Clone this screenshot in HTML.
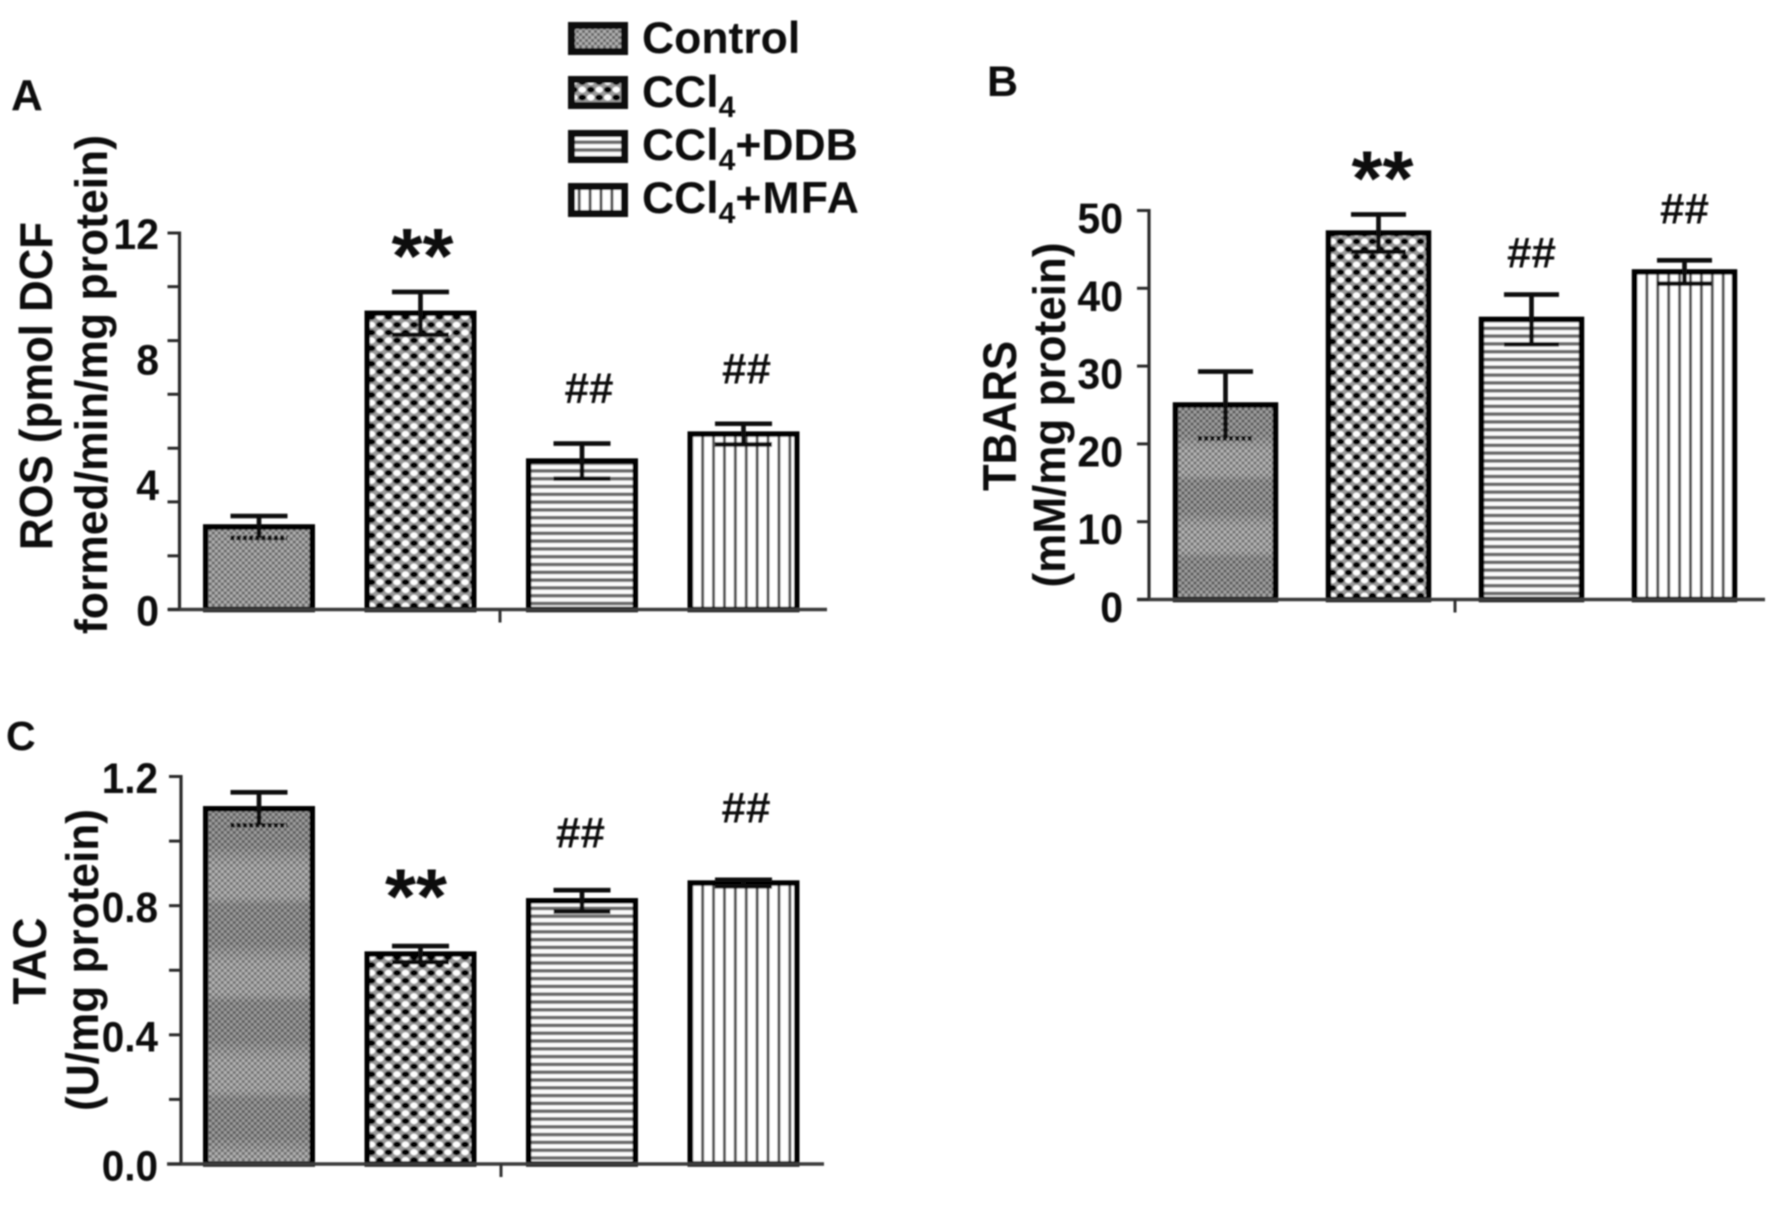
<!DOCTYPE html>
<html lang="en">
<head>
<meta charset="utf-8">
<title>ROS, TBARS and TAC bar charts</title>
<style>
html,body{margin:0;padding:0;background:#fff;}
svg{display:block;}
text{font-family:"Liberation Sans",Arial,sans-serif;font-weight:bold;fill:#0c0c0c;}
</style>
</head>
<body>
<svg id="figure" xmlns="http://www.w3.org/2000/svg" width="1772" height="1213" viewBox="0 0 1772 1213">
<defs>
<filter id="soft" filterUnits="userSpaceOnUse" x="0" y="0" width="1772" height="1213"><feGaussianBlur stdDeviation="0.8"/></filter>
<pattern id="fill-control" patternUnits="userSpaceOnUse" width="6" height="6">
<rect width="6" height="6" fill="#aeaeae"/><rect width="3" height="3" fill="#6a6a6a"/><rect x="3" y="3" width="3" height="3" fill="#6a6a6a"/>
</pattern>
<pattern id="fill-ccl4" patternUnits="userSpaceOnUse" width="17" height="15.6">
<rect width="17" height="15.6" fill="#9a9a9a"/>
<ellipse cx="4.25" cy="3.9" rx="3.9" ry="3" fill="#000"/><ellipse cx="12.75" cy="11.7" rx="3.9" ry="3" fill="#000"/>
<ellipse cx="12.75" cy="3.9" rx="3.7" ry="3" fill="#fff"/><ellipse cx="4.25" cy="11.7" rx="3.7" ry="3" fill="#fff"/>
</pattern>
<pattern id="fill-ccl4-b" patternUnits="userSpaceOnUse" width="16" height="15.4">
<rect width="16" height="15.4" fill="#9a9a9a"/>
<ellipse cx="4" cy="3.85" rx="3.7" ry="3" fill="#000"/><ellipse cx="12" cy="11.55" rx="3.7" ry="3" fill="#000"/>
<ellipse cx="12" cy="3.85" rx="3.5" ry="3" fill="#fff"/><ellipse cx="4" cy="11.55" rx="3.5" ry="3" fill="#fff"/>
</pattern>
<pattern id="fill-ddb" patternUnits="userSpaceOnUse" width="10" height="7.8">
<rect width="10" height="7.8" fill="#fbfbfb"/><rect y="0" width="10" height="3.6" fill="#6a6a6a"/>
</pattern>
<pattern id="fill-mfa" patternUnits="userSpaceOnUse" width="10.9" height="10">
<rect width="10.9" height="10" fill="#fff"/><rect x="0" width="3" height="10" fill="#555"/>
</pattern>
<linearGradient id="bands-b" gradientUnits="userSpaceOnUse" x1="0" y1="404" x2="0" y2="481" spreadMethod="repeat">
<stop offset="0" stop-color="#000" stop-opacity="0.1"/><stop offset="0.4" stop-color="#000" stop-opacity="0.1"/><stop offset="0.62" stop-color="#fff" stop-opacity="0.07"/><stop offset="0.9" stop-color="#fff" stop-opacity="0.07"/><stop offset="1" stop-color="#000" stop-opacity="0.1"/>
</linearGradient>
<linearGradient id="bands-c" gradientUnits="userSpaceOnUse" x1="0" y1="808" x2="0" y2="905" spreadMethod="repeat">
<stop offset="0" stop-color="#000" stop-opacity="0.1"/><stop offset="0.4" stop-color="#000" stop-opacity="0.1"/><stop offset="0.62" stop-color="#fff" stop-opacity="0.07"/><stop offset="0.9" stop-color="#fff" stop-opacity="0.07"/><stop offset="1" stop-color="#000" stop-opacity="0.1"/>
</linearGradient>
</defs>
<rect width="1772" height="1213" fill="#fff"/>
<g id="root" filter="url(#soft)">
  <text x="11" y="110" font-size="44">A</text>
  <text x="987" y="96" font-size="43">B</text>
  <text x="6" y="750" font-size="41">C</text>

  <g>
    <g>
      <rect x="571.5" y="25.5" width="53" height="26" fill="url(#fill-control)" stroke="#080808" stroke-width="7"/>
      <text x="642" y="53" font-size="44.5">Control</text>
    </g>
    <g>
      <rect x="571.5" y="79.5" width="53" height="26" fill="url(#fill-ccl4)" stroke="#080808" stroke-width="7"/>
      <text x="642" y="107" font-size="44.5">CCl<tspan dy="10" font-size="30">4</tspan></text>
    </g>
    <g>
      <rect x="571.5" y="133.5" width="53" height="26" fill="url(#fill-ddb)" stroke="#080808" stroke-width="7"/>
      <text x="642" y="160" font-size="44.5">CCl<tspan dy="10" font-size="30">4</tspan><tspan dy="-10">+DDB</tspan></text>
    </g>
    <g>
      <rect x="571.5" y="186.5" width="53" height="27" fill="url(#fill-mfa)" stroke="#080808" stroke-width="7"/>
      <text x="642" y="213" font-size="44.5">CCl<tspan dy="10" font-size="30">4</tspan><tspan dy="-10" letter-spacing="1.2">+MFA</tspan></text>
    </g>
  </g>

  <text transform="translate(52,386) rotate(-90)" text-anchor="middle" font-size="46" textLength="328" lengthAdjust="spacingAndGlyphs">ROS (pmol DCF</text>
  <text transform="translate(107,384.5) rotate(-90)" text-anchor="middle" font-size="45" textLength="499" lengthAdjust="spacingAndGlyphs">formed/min/mg protein)</text>
  <text transform="translate(1016,416) rotate(-90)" text-anchor="middle" font-size="47" textLength="150" lengthAdjust="spacingAndGlyphs">TBARS</text>
  <text transform="translate(1065,415) rotate(-90)" text-anchor="middle" font-size="45" textLength="345" lengthAdjust="spacingAndGlyphs">(mM/mg protein)</text>
  <text transform="translate(46,961) rotate(-90)" text-anchor="middle" font-size="47" textLength="87" lengthAdjust="spacingAndGlyphs">TAC</text>
  <text transform="translate(98,960) rotate(-90)" text-anchor="middle" font-size="45" textLength="302" lengthAdjust="spacingAndGlyphs">(U/mg protein)</text>

  <g id="plots"></g>
</g>
</svg>
<script>
const categories = ['Control', 'CCl4', 'CCl4+DDB', 'CCl4+MFA'];

const rosValues = [2.63, 9.44, 4.73, 5.59];
const rosErrors = [0.35, 0.68, 0.56, 0.33];
const rosTicks = [0, 1.71, 3.43, 5.14, 6.86, 8.57, 10.29, 12];
const rosTickLabels = [0, 4, 8, 12];
const rosMarks = ['', '**', '##', '##'];
const rosMarkLevels = [0, 11.51, 7.02, 7.63];

const tbarsValues = [25, 47.1, 36, 42.1];
const tbarsErrors = [4.3, 2.4, 3.2, 1.5];
const tbarsTicks = [0, 10, 20, 30, 40, 50];
const tbarsTickLabels = [0, 10, 20, 30, 40, 50];
const tbarsMarks = ['', '**', '##', '##'];
const tbarsMarkLevels = [0, 55.1, 44.45, 50.06];

const tacValues = [1.1, 0.65, 0.815, 0.87];
const tacErrors = [0.051, 0.025, 0.033, 0.01];
const tacTicks = [0, 0.2, 0.4, 0.6, 0.8, 1.0, 1.2];
const tacTickLabels = ['0.0', '0.4', '0.8', '1.2'];
const tacMarks = ['', '**', '##', '##'];
const tacMarkLevels = [0, 0.852, 1.023, 1.10];

const NS = 'http://www.w3.org/2000/svg';
const plots = document.getElementById('plots');

function make(tag, attrs, parent) {
  const node = document.createElementNS(NS, tag);
  for (const key in attrs) node.setAttribute(key, attrs[key]);
  parent.appendChild(node);
  return node;
}

function drawPanel(p) {
  const panel = make('g', {}, plots);
  
  

  const y = v => p.base - (v / p.yMax) * (p.base - p.top);
  const x = i => p.firstCenter + i * p.spacing;

  p.values.forEach((v, i) => {
    const left = x(i) - p.barWidth / 2;
    const height = p.base - y(v);
    const bar = make('rect', {
      transform: 'translate(' + left + ',' + p.base + ')',
      x: 0, y: -height, width: p.barWidth, height: height,
      fill: 'url(#' + p.fills[i] + ')', stroke: '#060606', 'stroke-width': 5.5
    }, panel);
    
    
    bar.setAttribute('aria-label', categories[i]);

    if (i === 0 && p.bands) {
      const band = make('rect', {
        x: left + 3, y: y(v) + 3, width: p.barWidth - 6, height: height - 3,
        fill: 'url(#' + p.bands + ')'
      }, panel);
      
      
    }

    const hi = y(v + p.errors[i]);
    const lo = y(v - p.errors[i]);
    const capL = x(i) - p.capWidth / 2;
    const capR = x(i) + p.capWidth / 2;
    const dashedLow = i === 0;
    const errorBar = make('path', {
      d: 'M' + x(i) + ' ' + hi + 'V' + lo + 'M' + capL + ' ' + hi + 'H' + capR +
         (dashedLow ? '' : 'M' + capL + ' ' + lo + 'H' + capR),
      fill: 'none', stroke: '#0a0a0a', 'stroke-width': 4.6
    }, panel);
    
    

    if (dashedLow) {
      const lowCap = make('line', {
        x1: capL, x2: capR, y1: lo, y2: lo,
        stroke: '#0a0a0a', 'stroke-width': 4.6, 'stroke-dasharray': '4 2.2'
      }, panel);
      
      
    }

    if (p.marks[i]) {
      const stars = p.marks[i] === '**';
      const size = stars ? 78 : 44;
      const label = make('text', {
        x: x(i) + p.markShift[i], y: y(p.markLevels[i]) + (stars ? 0.44 : 0.31) * size,
        'text-anchor': 'middle', 'font-size': size,
        textLength: stars ? 62 : 49, lengthAdjust: 'spacingAndGlyphs'
      }, panel);
      label.textContent = p.marks[i];
      
      
    }
  });

  const yAxis = make('line', {
    x1: p.axisX, x2: p.axisX, y1: y(p.yMax) - 1.5, y2: p.base,
    stroke: '#2a2a2a', 'stroke-width': 3.2
  }, panel);
  
  

  const xAxis = make('line', {
    x1: p.xStart, x2: p.xEnd, y1: p.base, y2: p.base,
    stroke: '#3a3a3a', 'stroke-width': 3.4
  }, panel);
  
  

  const centerTick = make('line', {
    x1: p.centerTick, x2: p.centerTick, y1: p.base, y2: p.base + 13,
    stroke: '#333', 'stroke-width': 3
  }, panel);
  
  

  p.ticks.forEach(t => {
    const tick = make('line', {
      x1: p.axisX - 12, x2: p.axisX, y1: y(t), y2: y(t),
      stroke: '#2a2a2a', 'stroke-width': 3
    }, panel);
    
    
  });

  p.tickLabels.forEach(t => {
    const label = make('text', {
      transform: 'translate(' + p.labelRight + ',' + (y(+t) + p.labelShift) + ') scale(1,' + p.labelStretch + ')',
      'text-anchor': 'end', 'font-size': p.labelSize
    }, panel);
    label.textContent = t;
    
    
  });
}

drawPanel({
  values: rosValues, errors: rosErrors, ticks: rosTicks, tickLabels: rosTickLabels,
  marks: rosMarks, markLevels: rosMarkLevels, markShift: [0, 2, 7, 3],
  fills: ['fill-control', 'fill-ccl4', 'fill-ddb', 'fill-mfa'],
  yMax: 12, top: 233, base: 609.5, axisX: 179.5, xStart: 168, xEnd: 827, centerTick: 500,
  firstCenter: 259, spacing: 161.5, barWidth: 106.5, capWidth: 57,
  labelRight: 159, labelShift: 16, labelSize: 41, labelStretch: 1.05
});

drawPanel({
  values: tbarsValues, errors: tbarsErrors, ticks: tbarsTicks, tickLabels: tbarsTickLabels,
  marks: tbarsMarks, markLevels: tbarsMarkLevels, markShift: [0, 4, 0, 0],
  fills: ['fill-control', 'fill-ccl4-b', 'fill-ddb', 'fill-mfa'],
  yMax: 50, top: 210.5, base: 599.5, axisX: 1149, xStart: 1137, xEnd: 1765, centerTick: 1455,
  firstCenter: 1225.5, spacing: 153, barWidth: 100, capWidth: 55, bands: 'bands-b',
  labelRight: 1123, labelShift: 22.5, labelSize: 41, labelStretch: 1.05
});

drawPanel({
  values: tacValues, errors: tacErrors, ticks: tacTicks, tickLabels: tacTickLabels,
  marks: tacMarks, markLevels: tacMarkLevels, markShift: [0, -4.5, -1.5, 2.5],
  fills: ['fill-control', 'fill-ccl4', 'fill-ddb', 'fill-mfa'],
  yMax: 1.2, top: 776.5, base: 1164, axisX: 181, xStart: 167, xEnd: 824, centerTick: 501,
  firstCenter: 259, spacing: 161.5, barWidth: 106.5, capWidth: 57, bands: 'bands-c',
  labelRight: 158, labelShift: 16.5, labelSize: 40.5, labelStretch: 1.06
});
</script>
</body>
</html>
